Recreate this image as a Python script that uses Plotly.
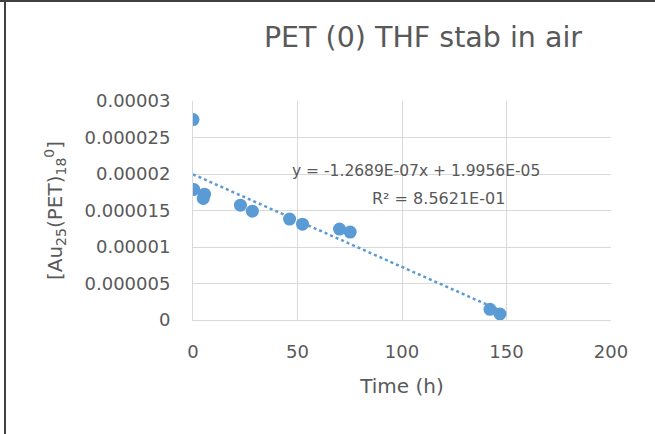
import plotly.graph_objects as go

# Measured concentration over time
time_h = [0, 0.4, 5.5, 4.9, 22.7, 28.4, 46.2, 52.4, 70.1, 75.2, 142.1, 146.9]
conc = [2.745e-5, 1.788e-5, 1.724e-5, 1.665e-5, 1.573e-5, 1.491e-5,
        1.382e-5, 1.313e-5, 1.245e-5, 1.204e-5, 1.46e-6, 8.2e-7]

# Linear fit coefficients (as reported)
slope = -1.2689e-07
intercept = 1.9956e-05
r_squared = 8.5621e-01

fit_x = [0, max(time_h)]
fit_y = [slope * x + intercept for x in fit_x]

blue = "#5B9BD5"
text_grey = "#595959"
grid_grey = "#D9D9D9"
font_family = "DejaVu Sans, sans-serif"

fig = go.Figure()
fig.add_trace(go.Scatter(
    x=fit_x, y=fit_y, mode="lines",
    line=dict(color=blue, width=2.5, dash="dot"),
    hoverinfo="skip", showlegend=False,
))
fig.add_trace(go.Scatter(
    x=time_h, y=conc, mode="markers",
    marker=dict(color=blue, size=13),
    showlegend=False,
))

eq_text = f"y = {slope:.4E}x + {intercept:.4E}"
r2_text = f"R² = {r_squared:.4E}"

fig.add_annotation(x=106.8, y=2.045e-5, xref="x", yref="y", text=eq_text,
                   showarrow=False, font=dict(size=15.5, color=text_grey, family=font_family))
fig.add_annotation(x=117.3, y=1.67e-5, xref="x", yref="y", text=r2_text,
                   showarrow=False, font=dict(size=16, color=text_grey, family=font_family))

fig.update_layout(
    width=655, height=434,
    margin=dict(l=193, r=44, t=101, b=114),
    paper_bgcolor="white", plot_bgcolor="white",
    font=dict(family=font_family, color=text_grey, size=18),
    title=dict(text="PET (0) THF stab in air", x=423 / 655, xanchor="center",
               y=1 - 37 / 434, yanchor="middle",
               font=dict(size=28.5, color=text_grey, family=font_family)),
    xaxis=dict(
        range=[0, 200], dtick=50, showgrid=True, gridcolor=grid_grey, gridwidth=1,
        showline=True, linecolor=grid_grey, linewidth=1, zeroline=False,
        ticks="", ticklabelstandoff=15, tickfont=dict(size=18, color=text_grey),
        title=dict(text="Time (h)", standoff=18, font=dict(size=20, color=text_grey)),
    ),
    yaxis=dict(
        range=[0, 3e-5], dtick=5e-6, tickformat="~f", showgrid=True,
        gridcolor=grid_grey, gridwidth=1, showline=True, linecolor=grid_grey,
        linewidth=1, zeroline=False, ticks="", ticklabelstandoff=18,
        tickfont=dict(size=18, color=text_grey),
        title=dict(text="[Au<sub>25</sub>(PET)<sub>18</sub><sup>0</sup>]", standoff=16,
                   font=dict(size=20, color=text_grey)),
    ),
)

# Chart area outline (left and top edges)
fig.add_shape(type="line", xref="paper", yref="paper", x0=-188 / 418, x1=-188 / 418,
              y0=-2, y1=2, line=dict(color="#404040", width=2))
fig.add_shape(type="line", xref="paper", yref="paper", x0=-1, x1=2,
              y0=1 + 100 / 219, y1=1 + 100 / 219, line=dict(color="#404040", width=2))

fig.write_html("out.html")
